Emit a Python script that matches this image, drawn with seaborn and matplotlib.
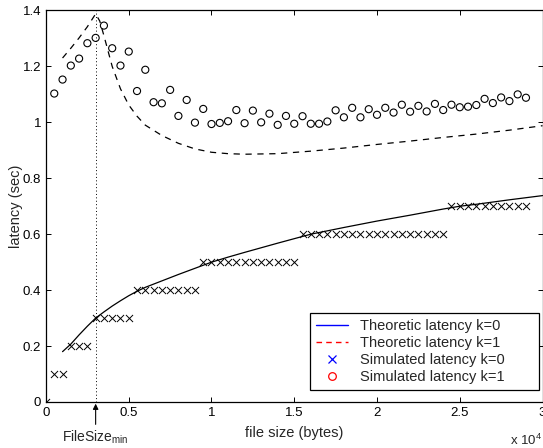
import numpy as np
import matplotlib
matplotlib.use("Agg")
import matplotlib.pyplot as plt
from matplotlib.lines import Line2D
import seaborn as sns

# simulated file sizes (bytes)
sim_size_k1 = np.arange(500, 29001, 500)
sim_size_k0 = np.arange(0, 29001, 500)

# simulated latency k=1 (circles)
sim_k1 = [1.103, 1.153, 1.203, 1.228, 1.283, 1.302, 1.346, 1.265, 1.203, 1.253,
          1.112, 1.188, 1.072, 1.068, 1.116, 1.023, 1.080, 0.999, 1.048, 0.994,
          0.998, 1.004, 1.044, 0.997, 1.042, 1.000, 1.031, 0.991, 1.023, 0.995,
          1.022, 0.995, 0.995, 1.003, 1.043, 1.018, 1.052, 1.018, 1.047, 1.027,
          1.052, 1.035, 1.063, 1.038, 1.059, 1.039, 1.066, 1.044, 1.063, 1.054,
          1.056, 1.062, 1.084, 1.069, 1.089, 1.076, 1.100, 1.088]

# simulated latency k=0 (crosses): step levels and how many points sit on each
k0_levels = [0.0, 0.1, 0.2, 0.3, 0.4, 0.5, 0.6, 0.7]
k0_counts = [1, 2, 3, 5, 8, 12, 18, 10]
sim_k0 = np.repeat(k0_levels, k0_counts)

# theoretic latency k=0 (solid)
theo_k0_size = [1000, 1500, 2000, 2500, 3000, 3500, 4000, 4500, 5000, 5500, 6000,
                7000, 8000, 9000, 10000, 11000, 12000, 14000, 16000, 18000,
                20000, 22000, 24000, 25000, 26000, 28000, 30000]
theo_k0 = [0.180, 0.207, 0.240, 0.271, 0.300, 0.322, 0.343, 0.362, 0.380, 0.396,
           0.410, 0.433, 0.456, 0.478, 0.500, 0.518, 0.535, 0.568, 0.600, 0.624,
           0.647, 0.668, 0.690, 0.700, 0.707, 0.723, 0.738]

# theoretic latency k=1 (dashed)
theo_k1_size = [1000, 1500, 2000, 2500, 3000, 3250, 3500, 4000, 4500, 5000, 5500,
                6000, 7000, 8000, 9000, 10000, 11000, 12000, 14000, 16000, 18000,
                20000, 22000, 24000, 26000, 28000, 30000]
theo_k1 = [1.230, 1.265, 1.302, 1.342, 1.388, 1.362, 1.310, 1.200, 1.120, 1.062,
           1.022, 0.990, 0.953, 0.925, 0.905, 0.893, 0.888, 0.886, 0.888, 0.897,
           0.908, 0.921, 0.933, 0.946, 0.958, 0.972, 0.988]

file_size_min = 3000

xticks = [0, 5000, 10000, 15000, 20000, 25000, 30000]
xtick_labels = ["0", "0.5", "1", "1.5", "2", "2.5", "3"]
yticks = [0, 0.2, 0.4, 0.6, 0.8, 1.0, 1.2, 1.4]
ytick_labels = ["0", "0.2", "0.4", "0.6", "0.8", "1", "1.2", "1.4"]

sns.set_style("ticks")
plt.rcParams["font.family"] = ["Liberation Sans", "DejaVu Sans"]
plt.rcParams["mathtext.fontset"] = "custom"
plt.rcParams["mathtext.rm"] = "Liberation Sans"
plt.rcParams["mathtext.it"] = "Liberation Sans"

fig = plt.figure(figsize=(5.43, 4.48), dpi=100)
ax = fig.add_axes([0.0847, 0.1027, 0.9144, 0.8739])

ax.axvline(file_size_min, color="k", lw=0.7, linestyle=(0, (1, 2.5)))

sns.lineplot(x=theo_k0_size, y=theo_k0, color="k", lw=0.9, ax=ax)
sns.lineplot(x=theo_k1_size, y=theo_k1, color="k", lw=0.9,
             linestyle=(0, (5, 4.5)), ax=ax)
sns.scatterplot(x=sim_size_k0, y=sim_k0, marker="x", color="k", s=26,
                linewidth=0.7, ax=ax)
sns.scatterplot(x=sim_size_k1, y=sim_k1, marker="o", s=26, facecolors="none",
                edgecolor="k", linewidth=0.8, ax=ax)

ax.set_xlim(0, 30000)
ax.set_ylim(0, 1.4)
ax.set_xticks(xticks)
ax.set_xticklabels(xtick_labels)
ax.set_yticks(yticks)
ax.set_yticklabels(ytick_labels)
ax.tick_params(direction="in", length=3.5, width=0.7, top=True, right=True,
               labelsize=9.5, pad=3.5, colors="k")
for sp in ax.spines.values():
    sp.set_visible(True)
    sp.set_linewidth(0.9)
    sp.set_color("k")

ax.set_xlabel("file size (bytes)", fontsize=10.5, labelpad=5)
ax.set_ylabel("latency (sec)", fontsize=10.5, labelpad=0)

# FileSize_min marker below the axis
ax.annotate("", xy=(file_size_min, -0.006), xytext=(file_size_min, -0.08),
            arrowprops=dict(arrowstyle="-|>", color="k", lw=0.8,
                            shrinkA=0, shrinkB=0, mutation_scale=8),
            annotation_clip=False)
ax.text(file_size_min, -0.095, "FileSize$_{\\rm min}$", ha="center", va="top",
        fontsize=10)

fig.text(0.998, 0.006, "x 10$^4$", ha="right", va="baseline", fontsize=9.5)

handles = [
    Line2D([], [], color="blue", lw=1),
    Line2D([], [], color="red", lw=1, linestyle=(0, (4, 3))),
    Line2D([], [], color="blue", marker="x", linestyle="none", markersize=5.5,
           markeredgewidth=0.9),
    Line2D([], [], color="red", marker="o", linestyle="none", markersize=5.5,
           markerfacecolor="none", markeredgewidth=0.9),
]
labels = ["Theoretic latency k=0", "Theoretic latency k=1",
          "Simulated latency k=0", "Simulated latency k=1"]
leg = ax.legend(handles, labels, loc="lower left", mode="expand",
                bbox_to_anchor=(0.532, 0.031, 0.461, 0.199),
                borderaxespad=0, fontsize=10.5, frameon=True, fancybox=False,
                edgecolor="k", framealpha=1, handlelength=2.2, labelspacing=0.2,
                borderpad=0.4, handletextpad=0.8)
leg.get_frame().set_linewidth(0.9)

fig.savefig("out.png", dpi=100)
